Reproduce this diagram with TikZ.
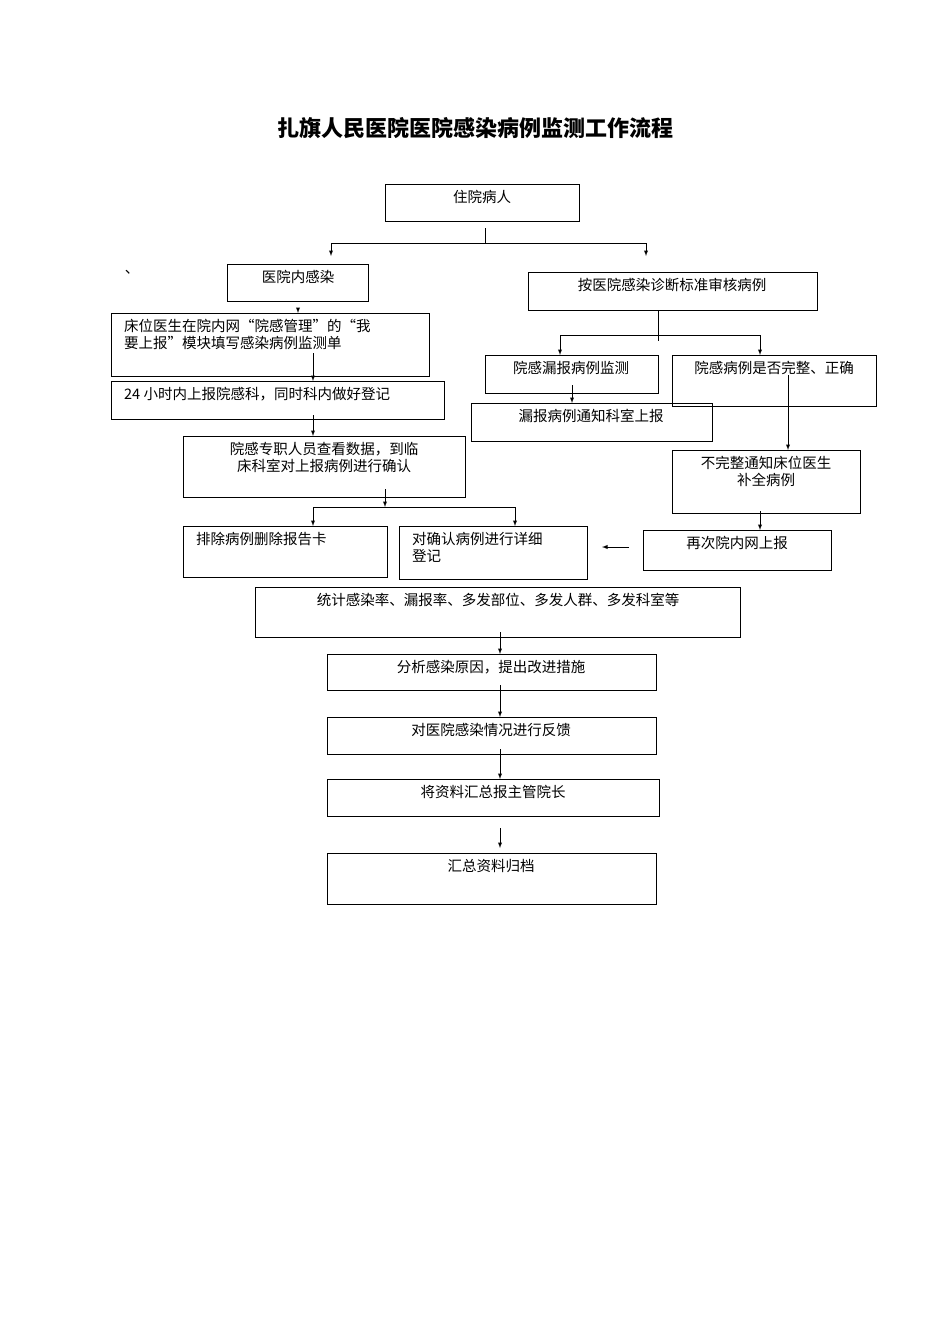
\documentclass[tikz,border=0pt]{standalone}
\usepackage{fontspec}
\setmainfont{Liberation Serif}
\newfontfamily\cjk{Noto Sans CJK SC}
\begin{document}
\begin{tikzpicture}[x=1pt,y=-1pt,
  bx/.style={draw,line width=1.1pt,inner sep=0pt},
  tx/.style={font=\cjk\fontsize{14.5}{17}\selectfont,inner sep=0pt,anchor=north},
  txl/.style={font=\cjk\fontsize{14.5}{17}\selectfont,inner sep=0pt,anchor=north west,align=left},
  ar/.style={-latex,line width=0.9pt},
  ln/.style={line width=0.9pt}]
\useasboundingbox (0,0) rectangle (950,1344);
\newcommand\bx[5]{\node[bx,minimum width=#4-#2,minimum height=#5-#3,anchor=north west] (#1) at (#2,#3) {};}
\node[font=\cjk\bfseries\fontsize{22}{26}\selectfont] (title) at (475,128) {扎旗人民医院医院感染病例监测工作流程};
\bx{a}{385}{184}{579}{221} \node[tx] at (482,190) {住院病人};
\bx{b}{227}{264}{368}{301} \node[tx] at (298,270) {医院内感染};
\node[tx] at (132,270) {、};
\bx{c}{528}{272}{817}{310} \node[tx] at (672,278) {按医院感染诊断标准审核病例};
\bx{d}{111}{313}{429}{376} \node[txl] at (124,319) {床位医生在院内网“院感管理”的“我\\要上报”模块填写感染病例监测单};
\bx{e}{111}{381}{444}{419} \node[txl] at (124,387) {24 小时内上报院感科，同时科内做好登记};
\bx{f}{183}{436}{465}{497} \node[tx,align=center] at (324,442) {院感专职人员查看数据，到临\\床科室对上报病例进行确认};
\bx{g}{485}{355}{658}{393} \node[tx] at (571,361) {院感漏报病例监测};
\bx{h}{672}{355}{876}{406} \node[tx] at (774,361) {院感病例是否完整、正确};
\bx{i}{471}{403}{712}{441} \node[tx] at (591,409) {漏报病例通知科室上报};
\bx{j}{672}{450}{860}{513} \node[tx,align=center] at (766,456) {不完整通知床位医生\\补全病例};
\bx{k}{643}{530}{831}{570} \node[tx] at (737,536) {再次院内网上报};
\bx{l}{183}{526}{387}{577} \node[txl] at (196,532) {排除病例删除报告卡};
\bx{m}{399}{526}{587}{579} \node[txl] at (412,532) {对确认病例进行详细\\登记};
\bx{n}{255}{587}{740}{637} \node[tx] at (498,593) {统计感染率、漏报率、多发部位、多发人群、多发科室等};
\bx{o}{327}{654}{656}{690} \node[tx] at (491,660) {分析感染原因，提出改进措施};
\bx{p}{327}{717}{656}{754} \node[tx] at (491,723) {对医院感染情况进行反馈};
\bx{q}{327}{779}{659}{816} \node[tx] at (493,785) {将资料汇总报主管院长};
\bx{r}{327}{853}{656}{904} \node[tx] at (491,859) {汇总资料归档};
% connectors
\draw[ln] (485,228) -- (485,243);
\draw[ln] (331,243) -- (646,243);
\draw[ar] (331,243) -- (331,256);
\draw[ar] (646,243) -- (646,256);
\draw[ar] (298,308) -- (d.north -| 298,0);
\draw[ar] (313,353) -- (e.north -| 313,0);
\draw[ar] (313,415) -- (f.north -| 313,0);
\draw[ln] (658,310) -- (658,341);
\draw[ln] (560,335) -- (760,335);
\draw[ar] (560,335) -- (g.north -| 560,0);
\draw[ar] (760,335) -- (h.north -| 760,0);
\draw[ar] (572,385) -- (i.north -| 572,0);
\draw[ar] (788,375) -- (j.north -| 788,0);
\draw[ar] (760,511) -- (k.north -| 760,0);
\draw[ar] (629,547) -- (602,547);
\draw[ar] (385,489) -- (385,507);
\draw[ln] (313,507) -- (515,507);
\draw[ar] (313,507) -- (l.north -| 313,0);
\draw[ar] (515,507) -- (m.north -| 515,0);
\draw[ar] (500,632) -- (o.north -| 500,0);
\draw[ar] (500,685) -- (p.north -| 500,0);
\draw[ar] (500,749) -- (q.north -| 500,0);
\draw[ar] (500,828) -- (500,848);
\end{tikzpicture}
\end{document}
